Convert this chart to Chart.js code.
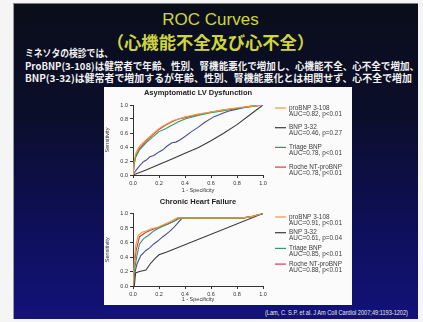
<!DOCTYPE html>
<html>
<head>
<meta charset="utf-8">
<script src="https://cdn.jsdelivr.net/npm/chart.js@4.4.1/dist/chart.umd.min.js"></script>
<style>
  html, body { margin: 0; padding: 0; width: 423px; height: 322px; overflow: hidden; background: #f5f5f5; }
  #slide {
    position: absolute; left: 13px; top: 3px; width: 404px; height: 315px;
    background: linear-gradient(180deg, #0a0e1a 0%, #0b0e2a 35%, #0e0f58 70%, #12127a 100%);
    border-left: 1px solid #9a9a9a; border-top: 1px solid #7a7a7a;
  }
  .head { position: absolute; left: 0; width: 421px; text-align: center; color: #cfd63a; white-space: nowrap; }
  #h1 { top: 10px; font: 17px/20px "Liberation Sans", Arial, sans-serif; }
  #h2 { top: 32px; font: 17.3px/20px "Noto Sans CJK JP", sans-serif; font-weight: bold; }
  .note { position: absolute; left: 25px; color: #f2f2f2; white-space: nowrap; transform-origin: 0 50%;
          font: bold 9.7px/11px "Noto Sans CJK JP", sans-serif; }
  #panel { position: absolute; left: 104px; top: 87px; width: 248px; height: 218px; background: #fbfbfb; }
  canvas { position: absolute; left: 0; }
  #cite { position: absolute; top: 309px; left: 265px; color: #e8e8e8; white-space: nowrap; transform-origin: 0 50%;
          font: 6.6px/8px "Liberation Sans", Arial, sans-serif; }
</style>
</head>
<body>
<div id="slide"></div>
<div class="head" id="h1">ROC Curves</div>
<div class="head" id="h2">（心機能不全及び心不全）</div>
<div class="note fit" data-w="88" style="top:48px">ミネソタの検診では、</div>
<div class="note fit" data-w="394" style="top:61px">ProBNP(3-108)は健常者で年齢、性別、腎機能悪化で増加し、心機能不全、心不全で増加、</div>
<div class="note fit" data-w="387" style="top:73px">BNP(3-32)は健常者で増加するが年齢、性別、腎機能悪化とは相関せず、心不全で増加</div>
<div id="panel">
  <canvas id="lvd" width="248" height="109" style="top:0"></canvas>
  <canvas id="chf" width="248" height="109" style="top:109px"></canvas>
</div>
<div id="cite" class="fit" data-w="143">(Lam, C. S.P. et al. J Am Coll Cardiol 2007;49:1193-1202)</div>

<script>
// Shared axis ticks (1 - specificity and sensitivity)
const axisTicks = [0, 0.2, 0.4, 0.6, 0.8, 1.0];

// Asymptomatic LV dysfunction: [1 - specificity, sensitivity]
const lvdProBnp = [[0,0],[0.005,0.12],[0.01,0.2],[0.02,0.3],[0.04,0.38],[0.06,0.43],[0.1,0.5],[0.13,0.55],[0.16,0.6],[0.2,0.66],[0.23,0.7],[0.27,0.74],[0.3,0.77],[0.35,0.8],[0.4,0.83],[0.45,0.85],[0.5,0.87],[0.6,0.9],[0.7,0.93],[0.8,0.96],[0.9,0.98],[1,1]];
const lvdBnp = [[0,0],[0.1,0.07],[0.2,0.15],[0.3,0.23],[0.4,0.31],[0.5,0.39],[0.6,0.49],[0.7,0.6],[0.8,0.72],[0.9,0.86],[1,1]];
const lvdTriage = [[0,0],[0.01,0.15],[0.02,0.25],[0.05,0.36],[0.1,0.46],[0.15,0.54],[0.2,0.62],[0.25,0.66],[0.3,0.71],[0.35,0.76],[0.4,0.8],[0.5,0.85],[0.6,0.89],[0.7,0.92],[0.8,0.95],[0.9,0.98],[1,1]];
const lvdRoche = [[0,0],[0.01,0.18],[0.02,0.27],[0.05,0.38],[0.1,0.48],[0.15,0.57],[0.2,0.65],[0.25,0.71],[0.3,0.76],[0.35,0.8],[0.4,0.82],[0.5,0.86],[0.6,0.9],[0.7,0.93],[0.8,0.95],[0.9,0.98],[1,1]];
const lvdExtra = [[0,0],[0.02,0.06],[0.05,0.13],[0.08,0.19],[0.1,0.21],[0.13,0.26],[0.16,0.28],[0.2,0.33],[0.23,0.36],[0.26,0.41],[0.3,0.46],[0.33,0.47],[0.36,0.5],[0.4,0.55],[0.45,0.62],[0.5,0.68],[0.55,0.75],[0.62,0.83],[0.7,0.89],[0.75,0.92],[0.85,0.96],[1,1]];

// Chronic heart failure: [1 - specificity, sensitivity]
const chfProBnp = [[0,0],[0.01,0.35],[0.02,0.55],[0.04,0.7],[0.07,0.74],[0.1,0.76],[0.14,0.79],[0.19,0.81],[0.25,0.86],[0.3,0.9],[0.34,0.94],[0.85,0.94],[0.92,0.96],[1,1]];
const chfBnp = [[0,0],[0.01,0],[0.02,0.18],[0.05,0.2],[0.1,0.22],[0.13,0.3],[0.17,0.38],[0.2,0.43],[0.26,0.47],[1,1]];
const chfTriage = [[0,0],[0.01,0.2],[0.03,0.42],[0.05,0.58],[0.08,0.65],[0.12,0.7],[0.16,0.76],[0.2,0.8],[0.25,0.84],[0.3,0.88],[0.37,0.94],[0.85,0.94],[0.92,0.96],[1,1]];
const chfRoche = [[0,0],[0.01,0.3],[0.025,0.5],[0.05,0.68],[0.1,0.74],[0.15,0.78],[0.2,0.81],[0.26,0.85],[0.32,0.9],[0.35,0.94],[0.85,0.94],[0.92,0.96],[1,1]];
const chfExtra = [[0,0],[0.01,0.15],[0.03,0.3],[0.06,0.42],[0.1,0.49],[0.13,0.53],[0.16,0.58],[0.19,0.62],[0.23,0.68],[0.28,0.75],[0.32,0.82],[0.35,0.88],[0.38,0.94],[0.85,0.94],[0.92,0.96],[1,1]];

// Legend text
const assayNames = ['proBNP 3-108', 'BNP 3-32', 'Triage BNP', 'Roche NT-proBNP'];
const lvdStats = ['AUC=0.82, p<0.01', 'AUC=0.46, p=0.27', 'AUC=0.78, p<0.01', 'AUC=0.78, p<0.01'];
const chfStats = ['AUC=0.91, p<0.01', 'AUC=0.61, p=0.04', 'AUC=0.85, p<0.01', 'AUC=0.88, p<0.01'];

const seriesColors = ['#ee9a3a', '#3a3a3a', '#2f9a66', '#d8394e', '#45508e'];

const toPoints = arr => arr.map(([x, y]) => ({ x, y }));

// Squeeze the slide text lines to their set widths
function fitLines() {
  document.querySelectorAll('.fit').forEach(el => {
    el.style.transform = 'none';
    const w = el.getBoundingClientRect().width;
    el.style.transform = 'scaleX(' + (Number(el.dataset.w) / w) + ')';
  });
}
fitLines();
if (document.fonts && document.fonts.ready) document.fonts.ready.then(fitLines);

// Side legend: a short line sample followed by two lines of text per assay
const sideLegend = {
  id: 'sideLegend',
  afterDraw(chart, args, opts) {
    const ctx = chart.ctx;
    ctx.save();
    ctx.font = opts.font;
    ctx.textBaseline = 'middle';
    opts.names.forEach((name, i) => {
      const ds = chart.data.datasets[i];
      const y = opts.top + i * opts.step;
      ctx.strokeStyle = ds.borderColor;
      ctx.lineWidth = 1.2;
      ctx.beginPath();
      ctx.moveTo(opts.x, y);
      ctx.lineTo(opts.x + opts.lineLen, y);
      ctx.stroke();
      ctx.fillStyle = '#3a3a3a';
      ctx.fillText(name, opts.x + opts.lineLen + 3, y);
      ctx.fillText(opts.stats[i], opts.x + opts.lineLen + 3, y + opts.lineGap);
    });
    ctx.restore();
  }
};

function makeDatasets(series) {
  return series.map((s, i) => ({
    label: i < assayNames.length ? assayNames[i] : '',
    data: toPoints(s),
    borderColor: seriesColors[i],
    borderWidth: 1.1,
    pointRadius: 0,
    showLine: true,
    tension: 0,
    fill: false
  }));
}

function axisCommon(titleText, titlePad) {
  return {
    type: 'linear', min: 0, max: 1,
    afterBuildTicks: s => { s.ticks = axisTicks.map(v => ({ value: v })); },
    ticks: { font: { family: 'Liberation Sans', size: 5.5 }, color: '#333', padding: 2,
             callback: v => Number(v).toFixed(1) },
    grid: { display: true, drawOnChartArea: false, drawTicks: true, tickLength: 3, color: '#333' },
    border: { display: true, color: '#333', width: 1 },
    title: { display: true, text: titleText, color: '#333',
             font: { family: 'Liberation Sans', size: 5.5 }, padding: titlePad }
  };
}

function rocChart(id, title, titlePad, xAxisH, series, stats, legendTop, legendStep) {
  const x = axisCommon('1 - Specificity', { top: 0, bottom: 2 });
  x.afterFit = s => { s.height = xAxisH; };
  const y = axisCommon('Sensitivity', { top: 0, bottom: 3 });
  y.afterFit = s => { s.width = 29; };
  return new Chart(document.getElementById(id), {
    type: 'scatter',
    data: { datasets: makeDatasets(series) },
    options: {
      responsive: false, animation: false, devicePixelRatio: 1,
      layout: { padding: { left: 0, right: 89, top: 0, bottom: 0 } },
      plugins: {
        legend: { display: false },
        tooltip: { enabled: false },
        title: { display: true, text: title, fullSize: false, color: '#222',
                 font: { family: 'Liberation Sans', size: 7.5, weight: 'bold', lineHeight: 1.2 },
                 padding: titlePad },
        sideLegend: { names: assayNames, stats: stats, x: 171, lineLen: 11, top: legendTop,
                      step: legendStep, lineGap: 6, font: '6.4px "Liberation Sans", Arial' }
      },
      scales: { x, y }
    },
    plugins: [sideLegend]
  });
}

rocChart('lvd', 'Asymptomatic LV Dysfunction', { top: 1, bottom: 8 }, 21,
         [lvdProBnp, lvdBnp, lvdTriage, lvdRoche, lvdExtra], lvdStats, 21, 19.7);
rocChart('chf', 'Chronic Heart Failure', { top: 1.5, bottom: 7 }, 19,
         [chfProBnp, chfBnp, chfTriage, chfRoche, chfExtra], chfStats, 21, 15.7);
</script>
</body>
</html>
